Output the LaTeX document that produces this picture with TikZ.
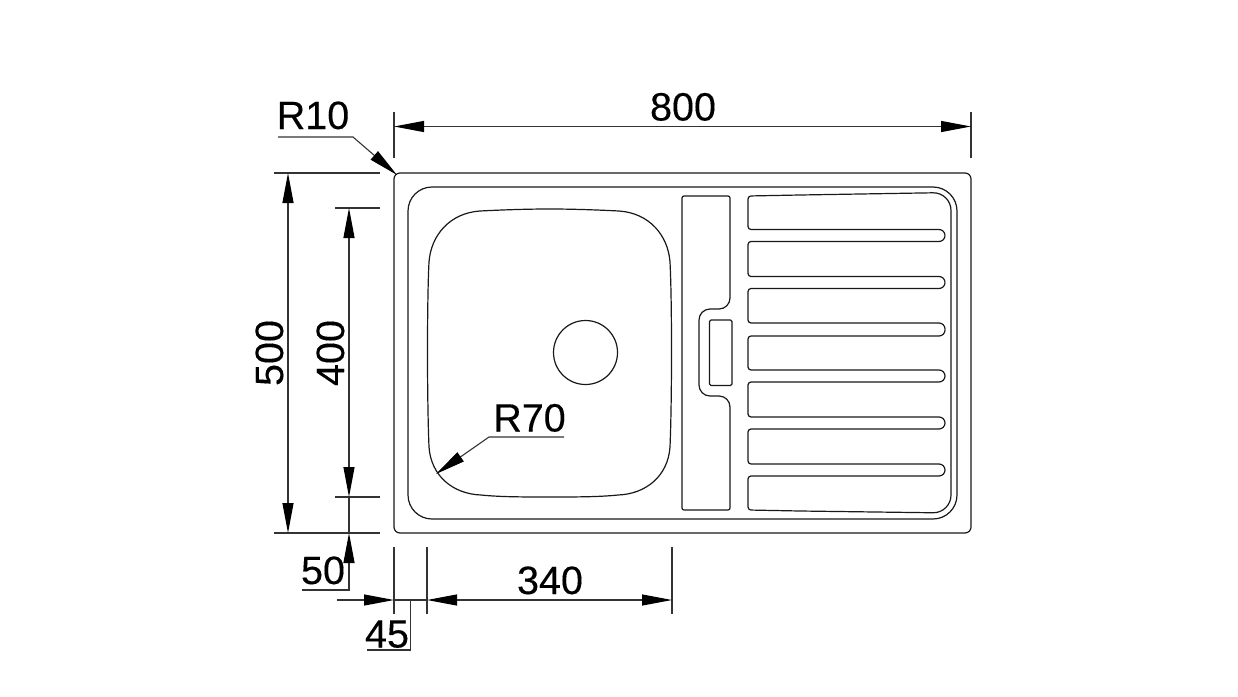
\documentclass[tikz,border=0pt]{standalone}
\usepackage{fontspec}
\setmainfont[FakeBold=0.3]{Liberation Sans}
\usetikzlibrary{arrows.meta}
\tikzset{
	sinkline/.style={line width=1.2pt, color=black!90, line join=round},
	dimline/.style={line width=1.1pt, color=black!80},
	dimtext/.style={anchor=base, inner sep=0pt, font=\fontsize{39.5}{40}\selectfont},
	>={Triangle[length=30pt, width=11pt, color=black]}
}

\begin{document}
\begin{tikzpicture}[x=1pt, y=-1pt]
	\useasboundingbox (0, 0) rectangle (1238, 696);

	%%%%% SINK %%%%%

	\draw[sinkline, rounded corners=6pt] (394, 173) rectangle (971, 533);
	\draw[sinkline, rounded corners=24pt] (408, 187) rectangle (957, 519);

	% basin
	\draw[sinkline] (549.5, 209) .. controls (525, 209) and (500, 210) .. (480, 211)
		.. controls (450, 213) and (431, 235) .. (429, 262)
		.. controls (427, 300) and (427, 400) .. (429, 447)
		.. controls (431, 476) and (453, 494) .. (481, 495)
		.. controls (500, 497) and (525, 497) .. (549.5, 497)
		.. controls (574, 497) and (599, 497) .. (618, 495)
		.. controls (646, 494) and (668, 476) .. (670, 447)
		.. controls (672, 400) and (672, 300) .. (670, 262)
		.. controls (668, 235) and (649, 213) .. (619, 211)
		.. controls (599, 210) and (574, 209) .. (549.5, 209) -- cycle;
	\draw[sinkline] (585.5, 352.5) circle (32);

	% soap tray
	\draw[sinkline] (706, 196) [rounded corners=2pt] -- (730, 196)
		[rounded corners=11pt] -- (730, 309) -- (699, 309) -- (699, 396) -- (730, 396)
		[rounded corners=2pt] -- (730, 510) -- (682, 510) -- (682, 196) -- (706, 196);
	\draw[sinkline, rounded corners=1.5pt] (709.5, 320) rectangle (732, 385.5);

	% drainer
	\draw[sinkline] (945, 235.5) [rounded corners=6pt] -- (945, 229.5) [rounded corners=3pt] -- (748, 229.5)
		-- (748, 196) -- (800, 195) [rounded corners=18pt] -- (951, 192.5) -- (951, 513)
		[rounded corners=3pt] -- (800, 511) -- (748, 510) -- (748, 476) [rounded corners=6pt] -- (945, 476) -- (945, 470);
	\foreach \ma/\ba/\tb/\mb in {235.5/241.5/276.5/282.5, 282.5/288.5/323/329.5, 329.5/336/370/376, 376/382/417/423, 423/429/464/470} {
		\draw[sinkline] (945, \ma) [rounded corners=6pt] -- (945, \ba) [rounded corners=3pt] -- (748, \ba)
			-- (748, \tb) [rounded corners=6pt] -- (945, \tb) -- (945, \mb);
	}

	%%%%% DIMENSIONS %%%%%

	% 800
	\draw[dimline] (394, 112) -- (394, 158);
	\draw[dimline] (971, 112) -- (971, 158);
	\draw[dimline, <->] (394, 126.5) -- (971, 126.5);
	\node[dimtext] (top800) at (683, 120.5) {800};

	% R10
	\draw[dimline, ->] (278, 137) -- (353, 137) -- (397, 175);
	\node[dimtext] (cornerR10) at (313, 129) {R10};

	% 500
	\draw[dimline] (274, 173) -- (380, 173);
	\draw[dimline] (274, 533) -- (380, 533);
	\draw[dimline, <->] (288, 173) -- (288, 533);
	\node[dimtext, rotate=90] (left500) at (283, 353) {500};

	% 400
	\draw[dimline] (335, 208) -- (380, 208);
	\draw[dimline] (335, 497) -- (380, 497);
	\draw[dimline, <->] (349, 208) -- (349, 497);
	\node[dimtext, rotate=90] (left400) at (344, 353) {400};

	% 50
	\draw[dimline] (349, 497) -- (349, 533);
	\draw[dimline, <-] (349, 533) -- (349, 590) -- (302, 590);
	\node[dimtext] (left50) at (323, 584) {50};

	% 340
	\draw[dimline] (394, 547) -- (394, 614);
	\draw[dimline] (427, 547) -- (427, 614);
	\draw[dimline] (672, 547) -- (672, 614);
	\draw[dimline, <->] (427, 600) -- (672, 600);
	\node[dimtext] (bottom340) at (550, 594) {340};

	% 45
	\draw[dimline, ->] (337, 600) -- (394, 600);
	\draw[dimline] (394, 600) -- (427, 600);
	\draw[dimline] (410.5, 600) -- (410.5, 650) -- (367, 650);
	\node[dimtext] (bottom45) at (387, 647.5) {45};

	% R70
	\draw[dimline, ->] (564, 437) -- (489, 437) -- (436, 474);
	\node[dimtext] (basinR70) at (529.5, 431.5) {R70};

\end{tikzpicture}
\end{document}
